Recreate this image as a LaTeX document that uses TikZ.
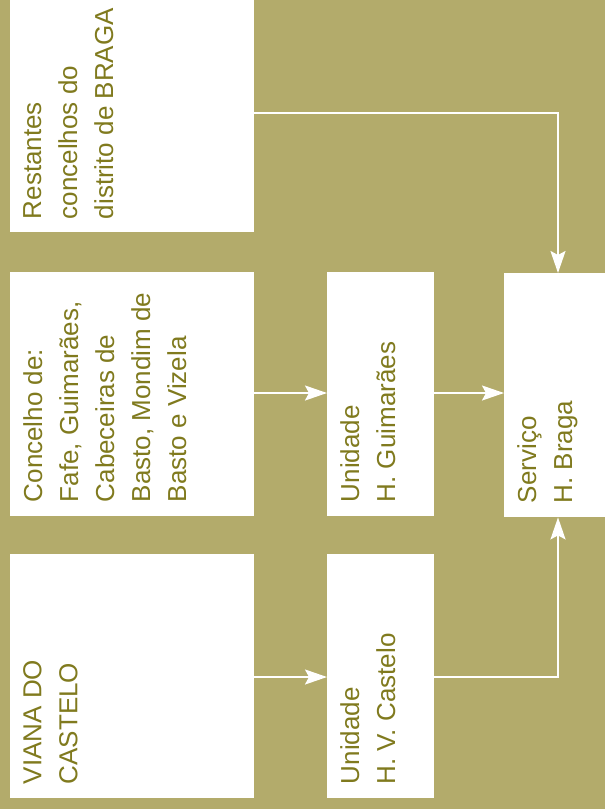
\documentclass[tikz,border=0pt]{standalone}
\usepackage{fontspec}
\setmainfont{Liberation Sans}
\usetikzlibrary{arrows.meta,calc}
\definecolor{bg}{RGB}{179,171,107}
\definecolor{txt}{RGB}{128,122,30}
\tikzset{
  box/.style={fill=white, draw=none, anchor=north west, inner sep=0pt},
  lbl/.style={rotate=90, anchor=north west, inner sep=0pt, align=left, text=txt,
    font=\fontsize{26}{36}\selectfont},
  conn/.style={draw=white, line width=2pt, -{Stealth[length=22pt,width=15pt,inset=4pt]}},
}
\begin{document}
\begin{tikzpicture}[x=1pt,y=-1pt]
\fill[bg] (0,0) rectangle (605,809);
\useasboundingbox (0,0) rectangle (605,809);
% boxes
\node[box, minimum width=244pt, minimum height=232pt] (rest) at (10,0) {};
\node[box, minimum width=244pt, minimum height=244pt] (conc) at (10,272) {};
\node[box, minimum width=244pt, minimum height=244pt] (viana) at (10,554) {};
\node[box, minimum width=107pt, minimum height=244pt] (guim) at (327,272) {};
\node[box, minimum width=107pt, minimum height=244pt] (cast) at (327,554) {};
\node[box, minimum width=101pt, minimum height=244pt] (serv) at (504,273) {};
% texts
\node[lbl] (trest) at ($(rest.south west)+(13,-13)$) {Restantes\\concelhos do\\distrito de BRAGA};
\node[lbl] (tconc) at ($(conc.south west)+(13,-14)$) {Concelho de:\\Fafe, Guimarães,\\Cabeceiras de\\Basto, Mondim de\\Basto e Vizela};
\node[lbl] (tviana) at ($(viana.south west)+(13,-14)$) {VIANA DO\\CASTELO};
\node[lbl] (tguim) at ($(guim.south west)+(13,-14)$) {Unidade\\H. Guimarães};
\node[lbl] (tcast) at ($(cast.south west)+(13,-14)$) {Unidade\\H. V. Castelo};
\node[lbl] (tserv) at ($(serv.south west)+(13,-14)$) {Serviço\\H. Braga};
% connectors
\coordinate (c1) at (558,113);
\coordinate (c2) at (558,677);
\draw[conn] (rest.east |- c1) -- (c1) -- (serv.north -| c1);
\draw[conn] (conc.east |- 0,393) -- (guim.west |- 0,393);
\draw[conn] (guim.east |- 0,393) -- (serv.west |- 0,393);
\draw[conn] (viana.east |- c2) -- (cast.west |- c2);
\draw[conn] (cast.east |- c2) -- (c2) -- (serv.south -| c2);
\end{tikzpicture}
\end{document}
